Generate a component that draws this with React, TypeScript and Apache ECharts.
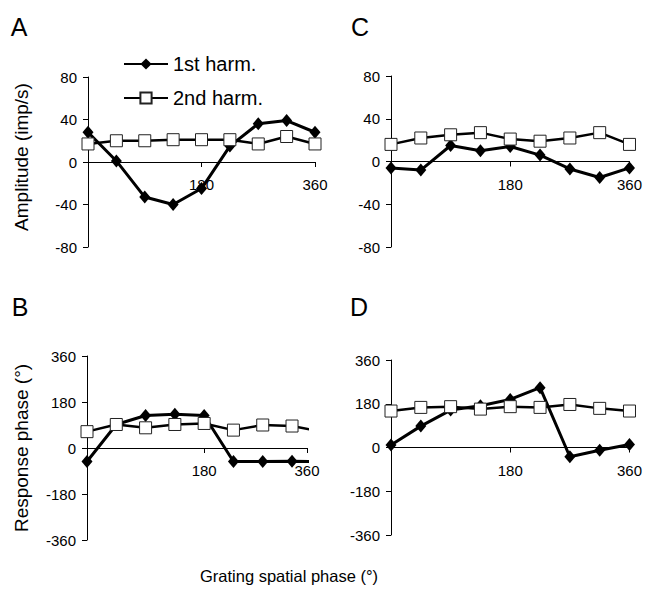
import React, { useEffect, useRef } from 'react';
import * as echarts from 'echarts';

// Grating spatial phase (deg)
const PHASES = [0, 45, 90, 135, 180, 225, 270, 315, 360];

// Panel A: amplitude (imp/s)
const A_FIRST = [28, 1, -33, -40, -25, 15, 36, 39, 28];
const A_SECOND = [17, 20, 20, 21, 21, 21, 17, 24, 17];
// Panel C: amplitude (imp/s)
const C_FIRST = [-6, -8, 15, 10, 14, 6, -7, -15, -6];
const C_SECOND = [16, 22, 25, 27, 21, 19, 22, 27, 16];
// Panel B: response phase (deg)
const B_FIRST = [-53, 92, 127, 132, 127, -53, -53, -52, -53];
const B_SECOND = [64, 92, 79, 92, 96, 70, 90, 86, 64];
// Panel D: response phase (deg)
const D_FIRST = [10, 88, 154, 172, 198, 246, -38, -11, 12];
const D_SECOND = [150, 165, 168, 158, 168, 165, 177, 161, 150];

const X_STEP = 180;
const AMP_RANGE = [-80, 80, 40];
const PHASE_RANGE = [-360, 360, 180];

const FONT = '"Liberation Sans", Arial, sans-serif';

export default function App() {
  const ref = useRef<HTMLDivElement>(null);

  useEffect(() => {
    const chart = echarts.init(ref.current!, null, { renderer: 'svg' });

    const grids = [
      { left: 88, top: 77, width: 227, height: 170 }, // A
      { left: 391, top: 76, width: 249, height: 171 }, // C
      { left: 87, top: 356, width: 220, height: 184 }, // B
      { left: 391, top: 360, width: 243, height: 175 }, // D
    ];

    const panels = [
      { first: A_FIRST, second: A_SECOND, range: AMP_RANGE, xMax: 360 },
      { first: C_FIRST, second: C_SECOND, range: AMP_RANGE, xMax: 360 },
      { first: B_FIRST, second: B_SECOND, range: PHASE_RANGE, xMax: 338 },
      { first: D_FIRST, second: D_SECOND, range: PHASE_RANGE, xMax: 360 },
    ];

    // the x axis crosses at y = 0, which is the middle of each symmetric y range
    const xAxis = panels.map((p, i) => ({
      type: 'value',
      gridIndex: i,
      position: 'bottom',
      offset: -grids[i].height / 2,
      min: 0,
      max: p.xMax,
      interval: X_STEP,
      axisLine: { show: true, onZero: false, lineStyle: { color: '#000', width: 1 } },
      axisTick: { show: true, length: 5, lineStyle: { color: '#000', width: 1 } },
      axisLabel: {
        formatter: (v: number) => (v >= 330 ? '360' : v === 180 ? '180' : ''),
        showMaxLabel: true,
        showMinLabel: true,
        margin: 15,
        color: '#000',
        fontSize: 15,
        fontFamily: FONT,
      },
      splitLine: { show: false },
    }));

    const yAxis = panels.map((p, i) => ({
      type: 'value',
      gridIndex: i,
      min: p.range[0],
      max: p.range[1],
      interval: p.range[2],
      axisLine: { show: true, onZero: false, lineStyle: { color: '#000', width: 1 } },
      axisTick: { show: true, length: 5, lineStyle: { color: '#000', width: 1 } },
      axisLabel: { margin: 11, color: '#000', fontSize: 15, fontFamily: FONT },
      splitLine: { show: false },
    }));

    const series: any[] = [];
    panels.forEach((p, i) => {
      series.push({
        type: 'line',
        name: '1st harm.',
        xAxisIndex: i,
        yAxisIndex: i,
        data: PHASES.map((x, j) => [x, p.first[j]]),
        symbol: 'diamond',
        symbolSize: [11, 13],
        itemStyle: { color: '#000' },
        lineStyle: { color: '#000', width: 3 },
        clip: true,
      });
      series.push({
        type: 'line',
        name: '2nd harm.',
        xAxisIndex: i,
        yAxisIndex: i,
        data: PHASES.map((x, j) => [x, p.second[j]]),
        symbol: 'rect',
        symbolSize: 12,
        itemStyle: { color: '#fff', borderColor: '#222', borderWidth: 1 },
        lineStyle: { color: '#000', width: 2.5 },
        clip: true,
      });
    });

    const letter = (t: string, x: number, y: number) => ({
      type: 'text',
      x,
      y,
      style: { text: t, fontSize: 25, fontFamily: FONT, fill: '#000', align: 'center', verticalAlign: 'middle' },
    });

    chart.setOption({
      animation: false,
      backgroundColor: '#fff',
      grid: grids,
      xAxis,
      yAxis,
      series,
      legend: {
        data: ['1st harm.', '2nd harm.'],
        orient: 'vertical',
        left: 118,
        top: 49,
        itemWidth: 44,
        itemHeight: 14,
        itemGap: 14,
        textStyle: { fontSize: 20, fontFamily: FONT, color: '#000' },
      },
      graphic: [
        letter('A', 19, 27),
        letter('C', 360, 27),
        letter('B', 20, 307),
        letter('D', 359, 307),
        {
          type: 'text',
          x: 21,
          y: 157,
          rotation: Math.PI / 2,
          style: { text: 'Amplitude (imp/s)', fontSize: 19, fontFamily: FONT, fill: '#000', align: 'center', verticalAlign: 'middle' },
        },
        {
          type: 'text',
          x: 21,
          y: 448,
          rotation: Math.PI / 2,
          style: { text: 'Response phase (°)', fontSize: 19, fontFamily: FONT, fill: '#000', align: 'center', verticalAlign: 'middle' },
        },
        {
          type: 'text',
          x: 289,
          y: 576,
          style: { text: 'Grating spatial phase (°)', fontSize: 16.5, fontFamily: FONT, fill: '#000', align: 'center', verticalAlign: 'middle' },
        },
      ],
    });

    return () => chart.dispose();
  }, []);

  return (
    <div
      ref={ref}
      style={{ position: 'fixed', left: 0, top: 0, width: 645, height: 592, background: '#fff' }}
    />
  );
}
